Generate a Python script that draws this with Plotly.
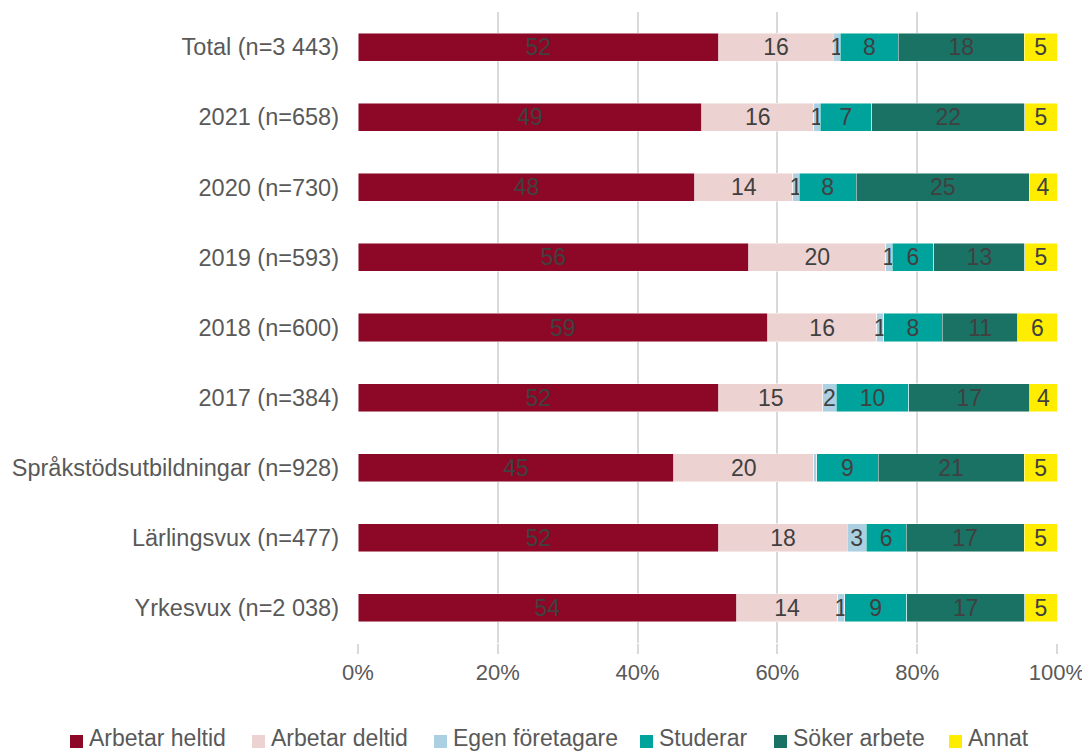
import plotly.graph_objects as go

categories = ["Total (n=3 443)", "2021 (n=658)", "2020 (n=730)", "2019 (n=593)",
              "2018 (n=600)", "2017 (n=384)", "Språkstödsutbildningar (n=928)",
              "Lärlingsvux (n=477)", "Yrkesvux (n=2 038)"]

series_names = ["Arbetar heltid", "Arbetar deltid", "Egen företagare",
                "Studerar", "Söker arbete", "Annat"]

arbetar_heltid = [51.6, 49.2, 48.2, 55.9, 58.6, 51.6, 45.2, 51.6, 54.2]
arbetar_deltid = [16.4, 16.0, 14.0, 19.6, 15.6, 14.9, 20.0, 18.4, 14.4]
egen_foretagare = [1.0, 0.9, 0.9, 0.9, 1.0, 1.9, 0.4, 2.7, 1.0]
studerar = [8.3, 7.4, 8.2, 6.0, 8.4, 10.4, 8.8, 5.7, 8.9]
soker_arbete = [18.0, 21.9, 24.7, 13.0, 10.8, 17.3, 20.9, 16.9, 16.9]
annat = [4.7, 4.6, 4.0, 4.6, 5.6, 3.9, 4.7, 4.7, 4.6]

series_values = [arbetar_heltid, arbetar_deltid, egen_foretagare,
                 studerar, soker_arbete, annat]

colors = ["#8C0826", "#EDD2D2", "#AAD0E2", "#00A39C", "#1A7265", "#FFED00"]

x_ticks = [0, 20, 40, 60, 80, 100]
x_tick_labels = ["0%", "20%", "40%", "60%", "80%", "100%"]

font_family = "Liberation Sans, Arial, sans-serif"

# Figure geometry (page body has an 8px margin)
W, H = 1082, 743
ML, MR, MT, MB = 350, 33, 4, 108
PW, PH = W - ML - MR, H - MT - MB

def px_x(px):
    return (px - ML) / PW

def px_y(py):
    return (H - MB - py) / PH

fig = go.Figure()
for name, vals, col in zip(series_names, series_values, colors):
    labels = [f"{v:.0f}" if round(v) > 0 else "" for v in vals]
    fig.add_trace(go.Bar(
        name=name, y=categories, x=vals, orientation="h",
        marker=dict(color=col, line=dict(color="rgba(255,255,255,0.6)", width=0.8)),
        text=labels, textposition="inside", insidetextanchor="middle",
        textangle=0, constraintext="none",
        textfont=dict(color="#404040", size=23, family=font_family),
        hoverinfo="x+y+name", showlegend=False,
    ))

# Manual legend (one row, like the reference)
legend_marker_left = [62, 244, 426, 632, 766, 941]
marker_size = 13
for name, col, mx in zip(series_names, colors, legend_marker_left):
    fig.add_shape(type="rect", xref="paper", yref="paper",
                  x0=px_x(mx), x1=px_x(mx + marker_size),
                  y0=px_y(740), y1=px_y(740 - marker_size),
                  fillcolor=col, line=dict(width=0))
    fig.add_annotation(xref="paper", yref="paper", x=px_x(mx + 17), y=px_y(730),
                       xanchor="left", yanchor="middle", text=name, showarrow=False,
                       font=dict(size=23, color="#595959", family=font_family))

fig.update_layout(
    barmode="stack",
    bargap=0.6,
    width=W, height=H,
    margin=dict(l=ML, r=MR, t=MT, b=MB),
    paper_bgcolor="white", plot_bgcolor="white",
    font=dict(family=font_family, color="#595959", size=22),
    uniformtext=dict(minsize=23, mode="show"),
    showlegend=False,
    xaxis=dict(range=[0, 100], tickvals=x_ticks, ticktext=x_tick_labels,
               showgrid=True, gridcolor="#D9D9D9", gridwidth=2,
               ticks="outside", ticklen=10, tickcolor="#D9D9D9", tickwidth=2,
               zeroline=False, showline=False, automargin=False,
               tickfont=dict(size=22, color="#595959")),
    yaxis=dict(autorange="reversed", showgrid=False, ticks="",
               ticklabelstandoff=18, showline=False, automargin=False,
               tickfont=dict(size=23.5, color="#595959")),
)

fig.write_html("out.html")
